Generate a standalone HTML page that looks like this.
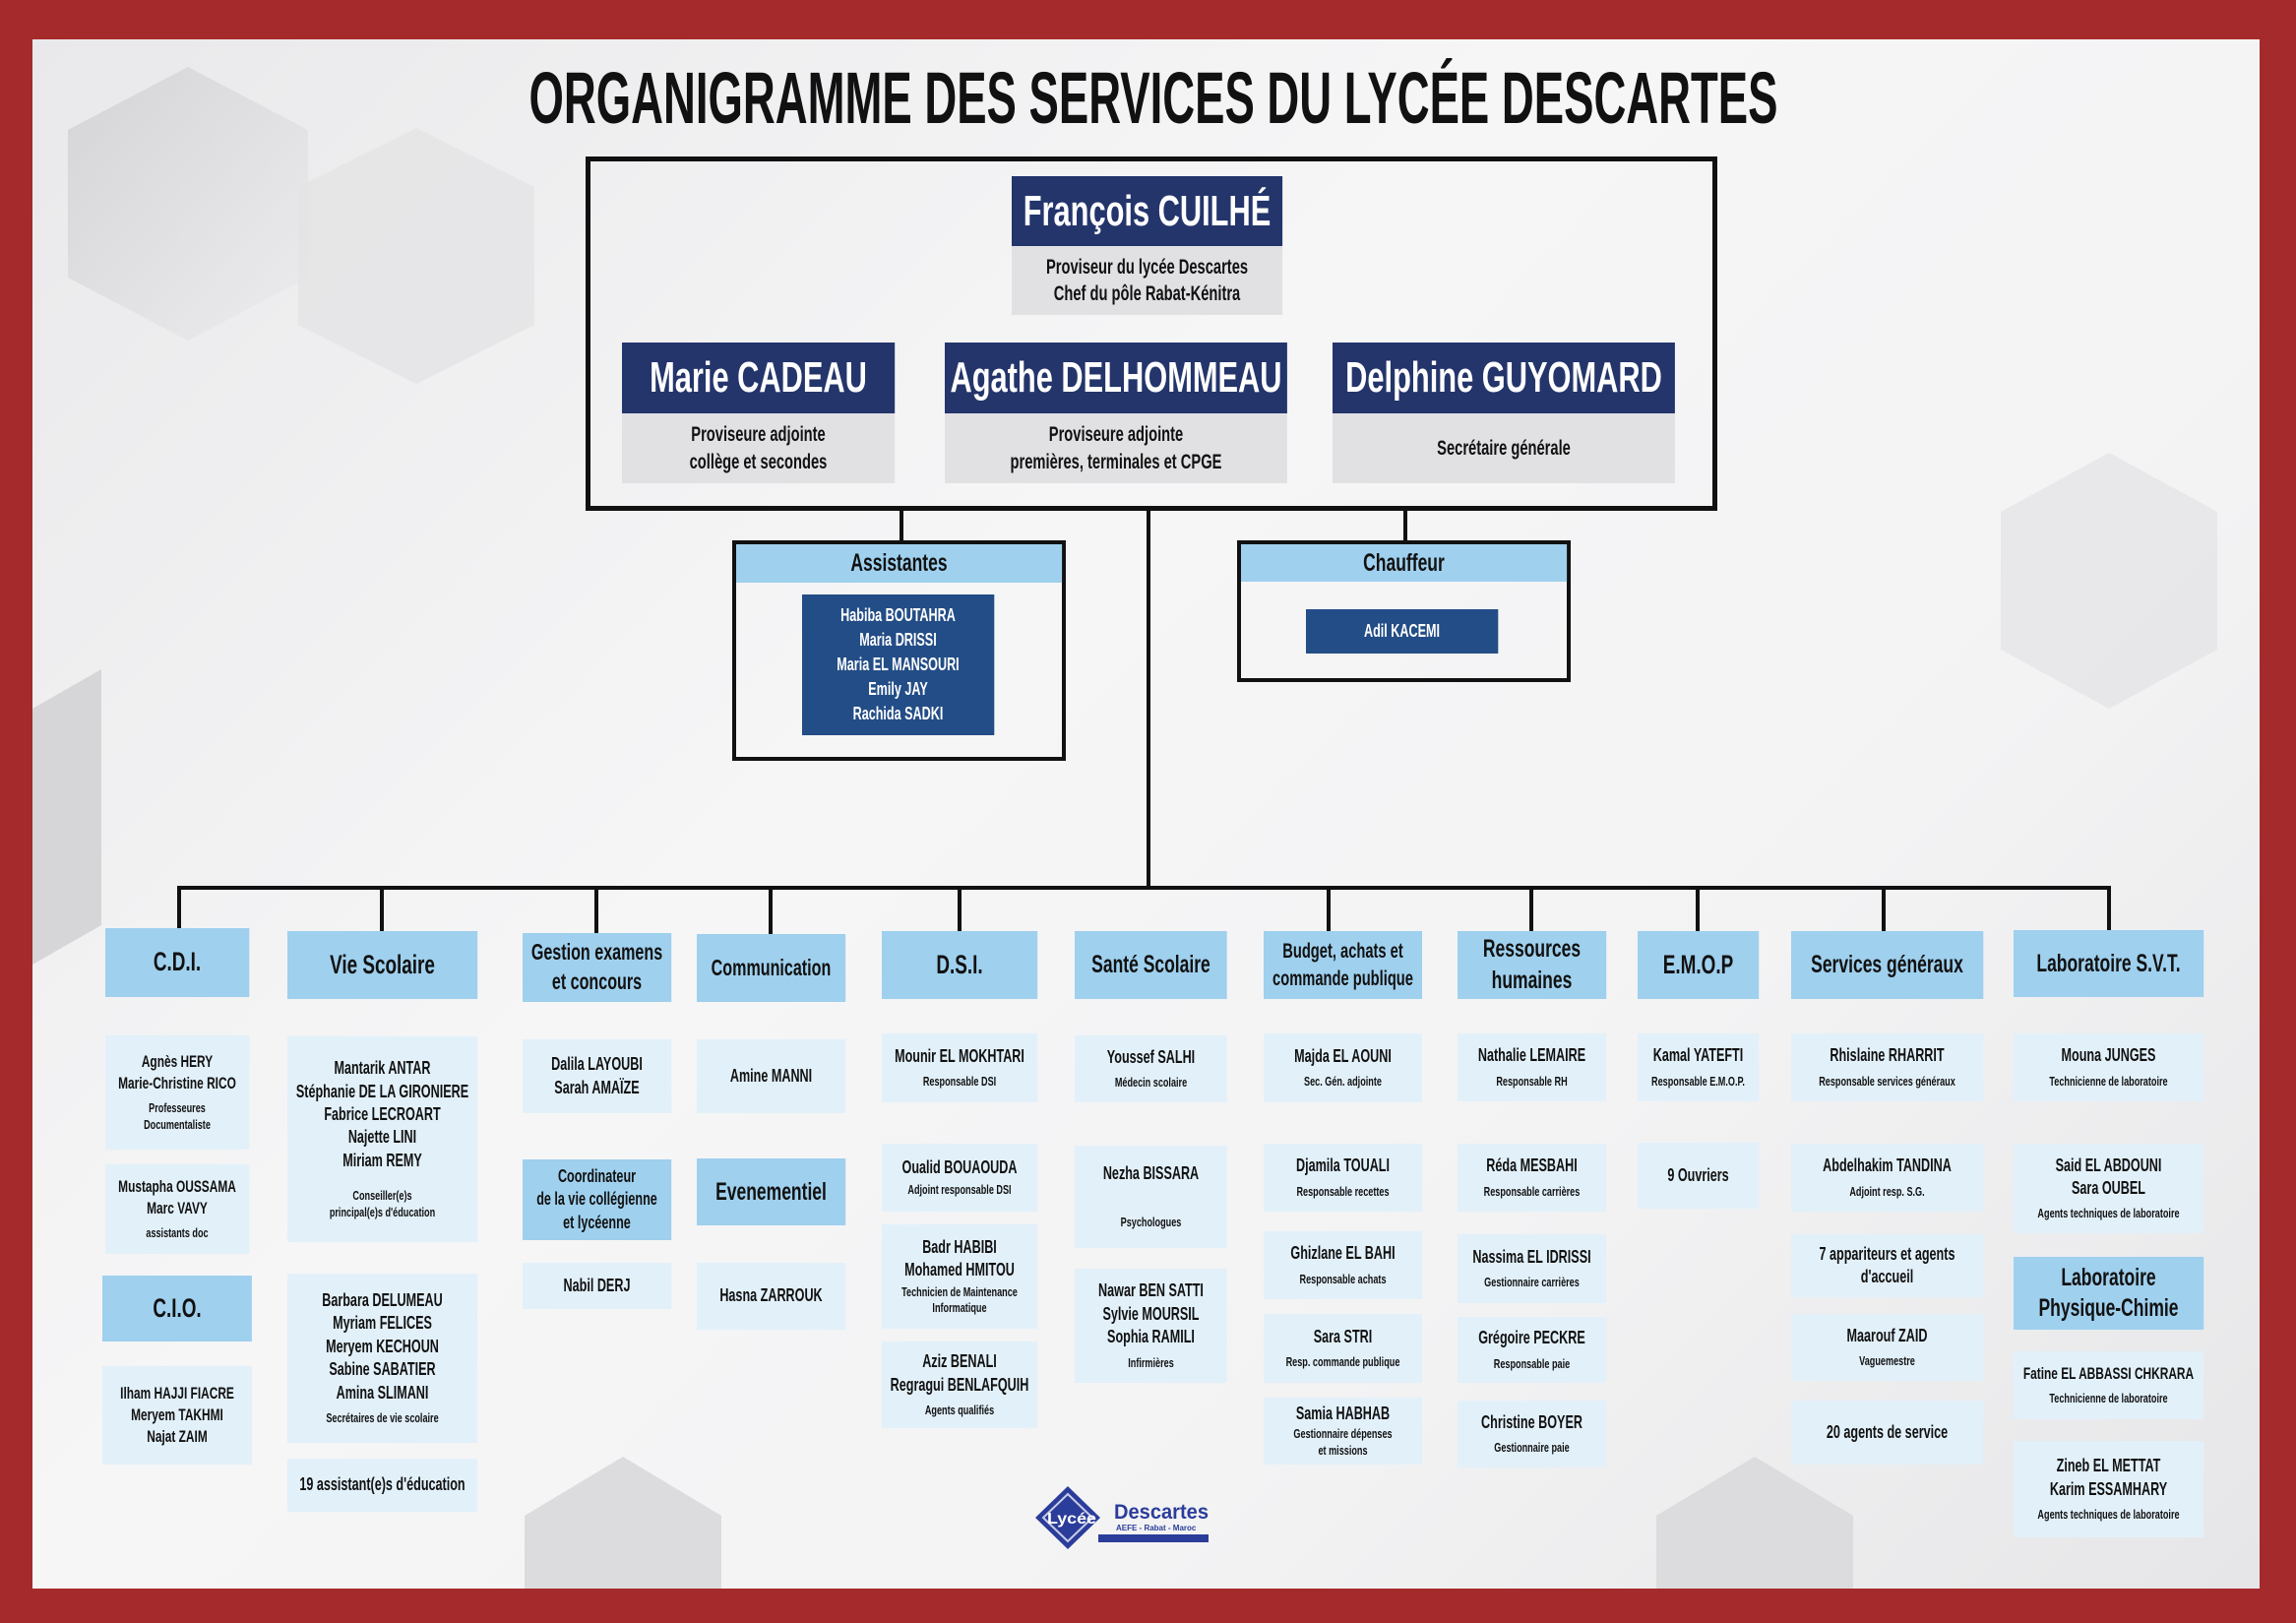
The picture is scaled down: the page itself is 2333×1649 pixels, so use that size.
<!DOCTYPE html>
<html><head><meta charset="utf-8"><style>
*{margin:0;padding:0;box-sizing:border-box}
body{width:2333px;height:1649px;background:#a52a2b;position:relative;overflow:hidden;font-family:"Liberation Sans",sans-serif;font-weight:bold;color:#111}
#in{position:absolute;left:33px;top:40px;width:2263px;height:1574px;background:linear-gradient(135deg,#e9e9eb 0%,#f6f6f7 40%,#f3f3f4 70%,#e6e6e8 100%);overflow:hidden}
.a{position:absolute}
.c{position:absolute;display:flex;flex-direction:column;align-items:center;justify-content:center;text-align:center;line-height:1.3;white-space:nowrap;width:calc(var(--w) / 0.7);transform-origin:0 0;transform:scaleX(0.7)}
.h{background:#9fd0ee;font-size:27px}
.p{background:#e2f0f9;font-size:18px}
.p small{font-size:13px;font-weight:bold;margin-top:6px;display:block}
.dk{background:#24356b;color:#fff}
.gr{background:#e1e1e4;font-size:21px}
.ln{position:absolute;background:#111}
</style></head><body>
<div id="in">
<svg class="a" style="left:0;top:0" width="2263" height="1574">
<defs><linearGradient id="g" x1="0" y1="0" x2="1" y2="1"><stop offset="0" stop-color="#cfcfd2"/><stop offset="1" stop-color="#ececee"/></linearGradient></defs>
<polygon points="36,92 158,28 280,92 280,242 158,306 36,242" fill="url(#g)" opacity="0.8"/>
<polygon points="0,680 70,640 70,900 0,940" fill="#d6d6d8"/>
<polygon points="270,150 390,90 510,150 510,290 390,350 270,290" fill="#e2e2e4" opacity="0.7"/>
<polygon points="2000,480 2110,420 2220,480 2220,620 2110,680 2000,620" fill="#e3e3e5" opacity="0.7"/>
<polygon points="500,1500 600,1440 700,1500 700,1574 500,1574" fill="#dcdcde"/>
<polygon points="1650,1500 1750,1440 1850,1500 1850,1574 1650,1574" fill="#dcdcde"/>
</svg>
</div>
<svg class="a" style="left:0;top:0" width="2333" height="200">
<text x="1172" y="125" text-anchor="middle" font-family="Liberation Sans,sans-serif" font-weight="bold" font-size="74" textLength="1269" lengthAdjust="spacingAndGlyphs" fill="#111">ORGANIGRAMME DES SERVICES DU LYCÉE DESCARTES</text>
</svg>

<!-- top box -->
<div class="a" style="left:595px;top:159px;width:1150px;height:360px;border:5px solid #111"></div>
<div class="c dk" style="left:1028px;top:179px;--w:275px;height:71px;font-size:44px">François CUILHÉ</div>
<div class="c gr" style="left:1028px;top:250px;--w:275px;height:70px">Proviseur du lycée Descartes<br>Chef du pôle Rabat-Kénitra</div>
<div class="c dk" style="left:632px;top:348px;--w:277px;height:72px;font-size:44px">Marie CADEAU</div>
<div class="c gr" style="left:632px;top:420px;--w:277px;height:71px">Proviseure adjointe<br>collège et secondes</div>
<div class="c dk" style="left:960px;top:348px;--w:348px;height:72px;font-size:44px">Agathe DELHOMMEAU</div>
<div class="c gr" style="left:960px;top:420px;--w:348px;height:71px">Proviseure adjointe<br>premières, terminales et CPGE</div>
<div class="c dk" style="left:1354px;top:348px;--w:348px;height:72px;font-size:44px">Delphine GUYOMARD</div>
<div class="c gr" style="left:1354px;top:420px;--w:348px;height:71px">Secrétaire générale</div>

<!-- connectors -->
<div class="ln" style="left:914px;top:519px;width:4px;height:32px"></div>
<div class="ln" style="left:1165px;top:519px;width:4px;height:385px"></div>
<div class="ln" style="left:1426px;top:519px;width:4px;height:32px"></div>
<div class="ln" style="left:180px;top:900px;width:1965px;height:4px"></div>
<div class="ln" style="left:180px;top:900px;width:4px;height:43px"></div>
<div class="ln" style="left:386px;top:900px;width:4px;height:46px"></div>
<div class="ln" style="left:604px;top:900px;width:4px;height:48px"></div>
<div class="ln" style="left:781px;top:900px;width:4px;height:49px"></div>
<div class="ln" style="left:973px;top:900px;width:4px;height:46px"></div>
<div class="ln" style="left:1348px;top:900px;width:4px;height:46px"></div>
<div class="ln" style="left:1554px;top:900px;width:4px;height:46px"></div>
<div class="ln" style="left:1723px;top:900px;width:4px;height:46px"></div>
<div class="ln" style="left:1912px;top:900px;width:4px;height:46px"></div>
<div class="ln" style="left:2141px;top:900px;width:4px;height:45px"></div>

<!-- assistantes -->
<div class="a" style="left:744px;top:549px;width:339px;height:224px;border:4px solid #111"></div>
<div class="c h" style="left:748px;top:553px;--w:331px;height:39px;font-size:25px">Assistantes</div>
<div class="c" style="left:815px;top:604px;--w:195px;height:143px;background:#234d86;color:#fff;font-size:18px;line-height:1.4">Habiba BOUTAHRA<br>Maria DRISSI<br>Maria EL MANSOURI<br>Emily JAY<br>Rachida SADKI</div>
<div class="a" style="left:1257px;top:549px;width:339px;height:144px;border:4px solid #111"></div>
<div class="c h" style="left:1261px;top:553px;--w:331px;height:38px;font-size:25px">Chauffeur</div>
<div class="c" style="left:1327px;top:619px;--w:195px;height:45px;background:#234d86;color:#fff;font-size:18px">Adil KACEMI</div>

<!-- CDI -->
<div class="c h" style="left:107px;top:943px;--w:146px;height:70px">C.D.I.</div>
<div class="c p" style="left:107px;top:1052px;--w:146px;height:116px;font-size:17px">Agnès HERY<br>Marie-Christine RICO<small>Professeures<br>Documentaliste</small></div>
<div class="c p" style="left:107px;top:1183px;--w:146px;height:91px;font-size:17px">Mustapha OUSSAMA<br>Marc VAVY<small>assistants doc</small></div>
<div class="c h" style="left:104px;top:1296px;--w:152px;height:67px">C.I.O.</div>
<div class="c p" style="left:104px;top:1388px;--w:152px;height:100px;font-size:17px">Ilham HAJJI FIACRE<br>Meryem TAKHMI<br>Najat ZAIM</div>
<!-- Vie -->
<div class="c h" style="left:292px;top:946px;--w:193px;height:69px">Vie Scolaire</div>
<div class="c p" style="left:292px;top:1053px;--w:193px;height:209px">Mantarik ANTAR<br>Stéphanie DE LA GIRONIERE<br>Fabrice LECROART<br>Najette LINI<br>Miriam REMY<small style="margin-top:16px">Conseiller(e)s<br>principal(e)s d'éducation</small></div>
<div class="c p" style="left:292px;top:1294px;--w:193px;height:172px">Barbara DELUMEAU<br>Myriam FELICES<br>Meryem KECHOUN<br>Sabine SABATIER<br>Amina SLIMANI<small>Secrétaires de vie scolaire</small></div>
<div class="c p" style="left:292px;top:1482px;--w:193px;height:54px">19 assistant(e)s d'éducation</div>
<!-- Gestion -->
<div class="c h" style="left:531px;top:948px;--w:151px;height:70px;font-size:23px">Gestion examens<br>et concours</div>
<div class="c p" style="left:531px;top:1056px;--w:151px;height:75px">Dalila LAYOUBI<br>Sarah AMAÏZE</div>
<div class="c h" style="left:531px;top:1178px;--w:151px;height:82px;font-size:18px">Coordinateur<br>de la vie collégienne<br>et lycéenne</div>
<div class="c p" style="left:531px;top:1283px;--w:151px;height:47px">Nabil DERJ</div>
<!-- Comm -->
<div class="c h" style="left:708px;top:949px;--w:151px;height:69px;font-size:23px">Communication</div>
<div class="c p" style="left:708px;top:1056px;--w:151px;height:75px">Amine MANNI</div>
<div class="c h" style="left:708px;top:1177px;--w:151px;height:68px;font-size:25px">Evenementiel</div>
<div class="c p" style="left:708px;top:1283px;--w:151px;height:68px">Hasna ZARROUK</div>
<!-- DSI -->
<div class="c h" style="left:896px;top:946px;--w:158px;height:69px">D.S.I.</div>
<div class="c p" style="left:896px;top:1050px;--w:158px;height:70px">Mounir EL MOKHTARI<small>Responsable DSI</small></div>
<div class="c p" style="left:896px;top:1162px;--w:158px;height:69px">Oualid BOUAOUDA<small style="margin-top:2px">Adjoint responsable DSI</small></div>
<div class="c p" style="left:896px;top:1244px;--w:158px;height:106px">Badr HABIBI<br>Mohamed HMITOU<small style="margin-top:2px">Technicien de Maintenance<br>Informatique</small></div>
<div class="c p" style="left:896px;top:1363px;--w:158px;height:88px">Aziz BENALI<br>Regragui BENLAFQUIH<small>Agents qualifiés</small></div>
<!-- Santé -->
<div class="c h" style="left:1092px;top:946px;--w:155px;height:69px;font-size:25px">Santé Scolaire</div>
<div class="c p" style="left:1092px;top:1052px;--w:155px;height:68px">Youssef SALHI<small>Médecin scolaire</small></div>
<div class="c p" style="left:1092px;top:1164px;--w:155px;height:104px">Nezha BISSARA<small style="margin-top:30px">Psychologues</small></div>
<div class="c p" style="left:1092px;top:1289px;--w:155px;height:116px">Nawar BEN SATTI<br>Sylvie MOURSIL<br>Sophia RAMILI<small>Infirmières</small></div>
<!-- Budget -->
<div class="c h" style="left:1284px;top:946px;--w:161px;height:69px;font-size:21px">Budget, achats et<br>commande publique</div>
<div class="c p" style="left:1284px;top:1050px;--w:161px;height:70px">Majda EL AOUNI<small>Sec. Gén. adjointe</small></div>
<div class="c p" style="left:1284px;top:1162px;--w:161px;height:69px">Djamila TOUALI<small>Responsable recettes</small></div>
<div class="c p" style="left:1284px;top:1251px;--w:161px;height:69px">Ghizlane EL BAHI<small>Responsable achats</small></div>
<div class="c p" style="left:1284px;top:1335px;--w:161px;height:70px">Sara STRI<small>Resp. commande publique</small></div>
<div class="c p" style="left:1284px;top:1420px;--w:161px;height:68px">Samia HABHAB<small style="margin-top:0">Gestionnaire dépenses<br>et missions</small></div>
<!-- RH -->
<div class="c h" style="left:1481px;top:946px;--w:151px;height:69px;font-size:25px;line-height:1.25">Ressources<br>humaines</div>
<div class="c p" style="left:1481px;top:1050px;--w:151px;height:69px">Nathalie LEMAIRE<small>Responsable RH</small></div>
<div class="c p" style="left:1481px;top:1162px;--w:151px;height:69px">Réda MESBAHI<small>Responsable carrières</small></div>
<div class="c p" style="left:1481px;top:1254px;--w:151px;height:70px">Nassima EL IDRISSI<small>Gestionnaire carrières</small></div>
<div class="c p" style="left:1481px;top:1338px;--w:151px;height:67px">Grégoire PECKRE<small>Responsable paie</small></div>
<div class="c p" style="left:1481px;top:1423px;--w:151px;height:68px">Christine BOYER<small>Gestionnaire paie</small></div>
<!-- EMOP -->
<div class="c h" style="left:1664px;top:946px;--w:123px;height:69px">E.M.O.P</div>
<div class="c p" style="left:1664px;top:1050px;--w:123px;height:69px">Kamal YATEFTI<small>Responsable E.M.O.P.</small></div>
<div class="c p" style="left:1664px;top:1161px;--w:123px;height:67px">9 Ouvriers</div>
<!-- SG -->
<div class="c h" style="left:1820px;top:946px;--w:195px;height:69px;font-size:25px">Services généraux</div>
<div class="c p" style="left:1820px;top:1050px;--w:195px;height:69px">Rhislaine RHARRIT<small>Responsable services généraux</small></div>
<div class="c p" style="left:1820px;top:1162px;--w:195px;height:69px">Abdelhakim TANDINA<small>Adjoint resp. S.G.</small></div>
<div class="c p" style="left:1820px;top:1254px;--w:195px;height:64px">7 appariteurs et agents<br>d'accueil</div>
<div class="c p" style="left:1820px;top:1335px;--w:195px;height:68px">Maarouf ZAID<small>Vaguemestre</small></div>
<div class="c p" style="left:1820px;top:1423px;--w:195px;height:65px">20 agents de service</div>
<!-- SVT -->
<div class="c h" style="left:2046px;top:945px;--w:193px;height:68px;font-size:25px">Laboratoire S.V.T.</div>
<div class="c p" style="left:2046px;top:1050px;--w:193px;height:69px">Mouna JUNGES<small>Technicienne de laboratoire</small></div>
<div class="c p" style="left:2046px;top:1162px;--w:193px;height:91px">Said EL ABDOUNI<br>Sara OUBEL<small>Agents techniques de laboratoire</small></div>
<div class="c h" style="left:2046px;top:1277px;--w:193px;height:74px;font-size:25px;line-height:1.25">Laboratoire<br>Physique-Chimie</div>
<div class="c p" style="left:2046px;top:1373px;--w:193px;height:69px;font-size:17px">Fatine EL ABBASSI CHKRARA<small>Technicienne de laboratoire</small></div>
<div class="c p" style="left:2046px;top:1464px;--w:193px;height:98px">Zineb EL METTAT<br>Karim ESSAMHARY<small>Agents techniques de laboratoire</small></div>

<!-- logo -->
<svg class="a" style="left:1050px;top:1508px" width="190" height="70">
<polygon points="35,2 68,34 35,66 2,34" fill="#2b3d9a"/>
<polygon points="35,10 60,34 35,58 10,34" fill="none" stroke="#c9cde8" stroke-width="2"/>
<text x="14" y="40" font-family="Liberation Sans" font-size="16" fill="#fff" textLength="50" lengthAdjust="spacingAndGlyphs">Lycée</text>
<text x="82" y="35" font-family="Liberation Sans" font-weight="bold" font-size="21" fill="#2b3d9a" textLength="96" lengthAdjust="spacingAndGlyphs">Descartes</text>
<text x="84" y="47" font-family="Liberation Sans" font-size="8" fill="#2b3d9a">AEFE - Rabat - Maroc</text>
<rect x="66" y="51" width="112" height="8" fill="#2b3d9a"/>
</svg>
</body></html>
